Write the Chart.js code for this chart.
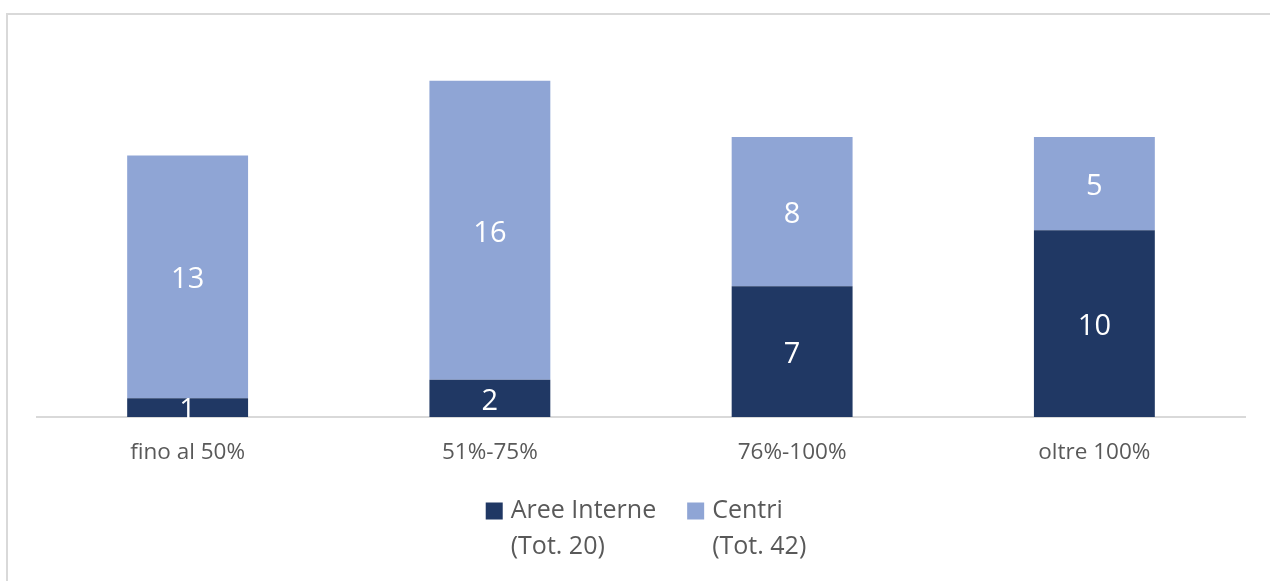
<!DOCTYPE html>
<html>
<head>
<meta charset="utf-8">
<script src="https://cdn.jsdelivr.net/npm/chart.js@4"></script>
<style>
  html, body { margin: 0; padding: 0; background: #fff; overflow: hidden; }
  #wrap { position: relative; width: 1270px; height: 581px; }
  #frame { position: absolute; left: 6px; top: 13px; width: 1300px; height: 600px; border: 2px solid #d9d9d9; box-sizing: border-box; }
  #chart { position: absolute; left: 0; top: 0; }
</style>
</head>
<body>
<div id="wrap">
  <div id="frame"></div>
  <canvas id="chart" width="1270" height="581"></canvas>
</div>
<script>
// Fasce di copertura
const categorie = ['fino al 50%', '51%-75%', '76%-100%', 'oltre 100%'];
const areeInterne = [1, 2, 7, 10];
const centri = [13, 16, 8, 5];
const legendaAree = ['Aree Interne', '(Tot. 20)'];
const legendaCentri = ['Centri', '(Tot. 42)'];

const grigio = '#595959';
const fontFamily = '"Open Sans", sans-serif';

// Etichette bianche al centro di ogni segmento
const etichetteValori = {
  id: 'etichetteValori',
  afterDatasetsDraw(chart) {
    const ctx = chart.ctx;
    ctx.save();
    ctx.fillStyle = '#ffffff';
    ctx.font = '29px ' + fontFamily;
    ctx.textAlign = 'center';
    ctx.textBaseline = 'middle';
    chart.data.datasets.forEach((ds, i) => {
      chart.getDatasetMeta(i).data.forEach((bar, j) => {
        const p = bar.getProps(['x', 'y', 'base'], true);
        ctx.fillText(ds.data[j], p.x, (p.y + p.base) / 2 + 3);
      });
    });
    ctx.restore();
  }
};

// Legenda su due righe sotto l'asse
const legendaDueRighe = {
  id: 'legendaDueRighe',
  afterDraw(chart) {
    const ctx = chart.ctx;
    const testi = [legendaAree, legendaCentri];
    const box = 17, gapTesto = 8, gapVoci = 31;
    ctx.save();
    ctx.font = '25px ' + fontFamily;
    const larghezze = testi.map(t => box + gapTesto + Math.max(...t.map(r => ctx.measureText(r).width)));
    const totale = larghezze.reduce((a, b) => a + b, 0) + gapVoci;
    let x = 646 - totale / 2;
    const riga1 = 518, interlinea = 36;
    chart.data.datasets.forEach((ds, i) => {
      ctx.fillStyle = ds.backgroundColor;
      ctx.fillRect(x, riga1 - 15.5, box, box);
      ctx.fillStyle = grigio;
      ctx.textAlign = 'left';
      ctx.textBaseline = 'alphabetic';
      testi[i].forEach((r, k) => ctx.fillText(r, x + box + gapTesto, riga1 + k * interlinea));
      x += larghezze[i] + gapVoci;
    });
    ctx.restore();
  }
};

const config = {
  type: 'bar',
  data: {
    labels: categorie,
    datasets: [
      { label: 'Aree Interne', data: areeInterne, backgroundColor: '#203864' },
      { label: 'Centri', data: centri, backgroundColor: '#8FA5D5' }
    ]
  },
  options: {
    responsive: false,
    animation: false,
    categoryPercentage: 1,
    barPercentage: 0.4,
    layout: { padding: { left: 36.5, right: 24.5, top: 43.5, bottom: 100 } },
    plugins: {
      tooltip: { enabled: false },
      legend: { display: false }
    },
    scales: {
      x: {
        stacked: true,
        grid: { display: false },
        border: { color: '#d9d9d9', width: 2 },
        ticks: { color: grigio, padding: 14.5, font: { family: fontFamily, size: 22.5 } }
      },
      y: {
        stacked: true,
        display: false,
        min: 0,
        max: 20
      }
    }
  },
  plugins: [etichetteValori, legendaDueRighe]
};

new Chart(document.getElementById('chart'), config);
</script>
</body>
</html>
